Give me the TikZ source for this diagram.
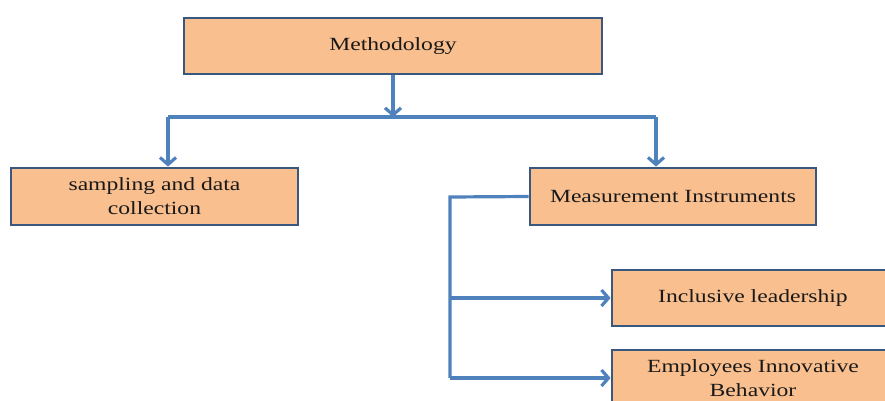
\documentclass[tikz,border=0pt]{standalone}
\usepackage{fontspec}
\setmainfont[FakeStretch=1.27]{Liberation Serif}
\usetikzlibrary{arrows.meta}
\definecolor{boxfill}{HTML}{F9BF8F}
\definecolor{boxline}{HTML}{38587F}
\definecolor{arrline}{HTML}{4F81BD}
\begin{document}
\begin{tikzpicture}[x=1pt,y=-1pt,
  box/.style={draw=boxline,line width=2.8pt,fill=boxfill,inner sep=0pt,
    align=center,font=\fontsize{18.6}{24}\selectfont,text=black!90},
  conn/.style={draw=arrline,line width=3.2pt},
  arr/.style={conn,-{Straight Barb[length=7pt,width=16pt,line width=3.2pt]}}]
\useasboundingbox (0,0) rectangle (885,401);
\clip (0,0) rectangle (885,401);
\node[box,minimum width=418pt,minimum height=56pt] (meth) at (393,46) {Methodology};
\node[box,minimum width=287pt,minimum height=57pt] (samp) at (154.5,196.5) {sampling and data\\collection};
\node[box,minimum width=286pt,minimum height=57pt] (meas) at (673,196.5) {Measurement Instruments};
\node[box,minimum width=282pt,minimum height=56pt] (incl) at (753,298) {Inclusive leadership};
\node[box,minimum width=282pt,minimum height=56pt] (emp) at (753,378) {Employees Innovative\\Behavior};
\coordinate (jm) at (393,117);
\coordinate (jl) at (168,117);
\coordinate (jr) at (656,117);
\coordinate (bx) at (450,197);
\draw[conn] (jl) -- (jr);
\draw[arr] (meth.south) -- (jm);
\draw[arr] (jl) -- (jl |- samp.north);
\draw[arr] (jr) -- (jr |- meas.north);
\draw[conn] (meas.west) -- (bx) -- (bx |- emp.west);
\draw[arr] (bx |- incl.west) -- (incl.west);
\draw[arr] (bx |- emp.west) -- (emp.west);
\end{tikzpicture}
\end{document}
